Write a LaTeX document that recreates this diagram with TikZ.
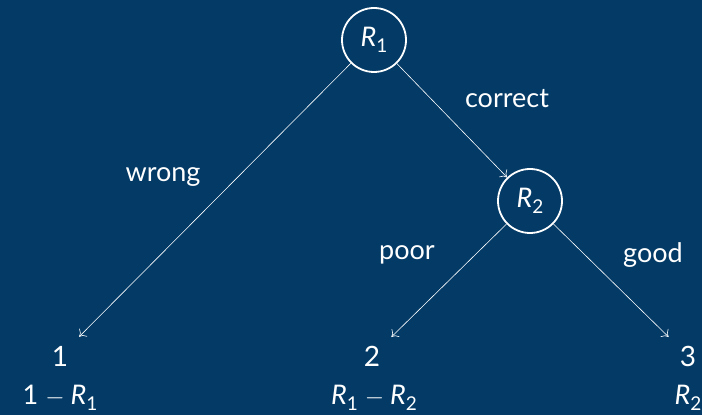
\documentclass[tikz,border=0pt]{standalone}
\usepackage{fontspec}
\setmainfont{Lato}
\usepackage{tikz}
\usetikzlibrary{arrows.meta}
\definecolor{deepBlue}{HTML}{033A66}
\newcommand{\rsub}[1]{\textit{R}\raisebox{-0.22em}{\fontsize{19}{19}\selectfont #1}}
\newcommand{\mns}{\hspace{7pt}$-$\hspace{6pt}}

\begin{document}
\begin{tikzpicture}[x=1pt,y=1pt,white,
  rnode/.style={circle,draw=white,line width=1.8pt,minimum size=64pt,inner sep=0pt,font=\fontsize{27}{30}\selectfont},
  leaf/.style={circle,minimum size=54pt,inner sep=0pt,font=\fontsize{28}{32}\selectfont},
  pay/.style={inner sep=0pt,font=\fontsize{27}{30}\selectfont},
  lbl/.style={font=\fontsize{27}{30}\selectfont},
  edge/.style={line width=0.6pt,-{To[length=6pt,width=11pt]}}]
\fill[deepBlue] (0,0) rectangle (702,415);
\useasboundingbox (0,0) rectangle (702,415);
% decision nodes
\node[rnode] (r1) at (374,375) {\rsub{1}};
\node[rnode] (r2) at (530,214) {\rsub{2}};
% outcomes
\node[leaf] (l1) at (60,59) {1};
\node[leaf] (l2) at (372,59) {2};
\node[leaf] (l3) at (688,59) {3};
\node[pay] (p1) at (60,17) {1\mns\rsub{1}};
\node[pay] (p2) at (374,17) {\rsub{1}\mns\rsub{2}};
\node[pay] (p3) at (688,17) {\rsub{2}};
% edges
\draw[edge] (r1) -- (l1);
\draw[edge] (r1) -- (r2);
\draw[edge] (r2) -- (l2);
\draw[edge] (r2) -- (l3);
\node[lbl] at (163,238) {wrong};
\node[lbl] at (507,316) {correct};
\node[lbl] at (407,160) {poor};
\node[lbl] at (653,160) {good};
\end{tikzpicture}
\end{document}
